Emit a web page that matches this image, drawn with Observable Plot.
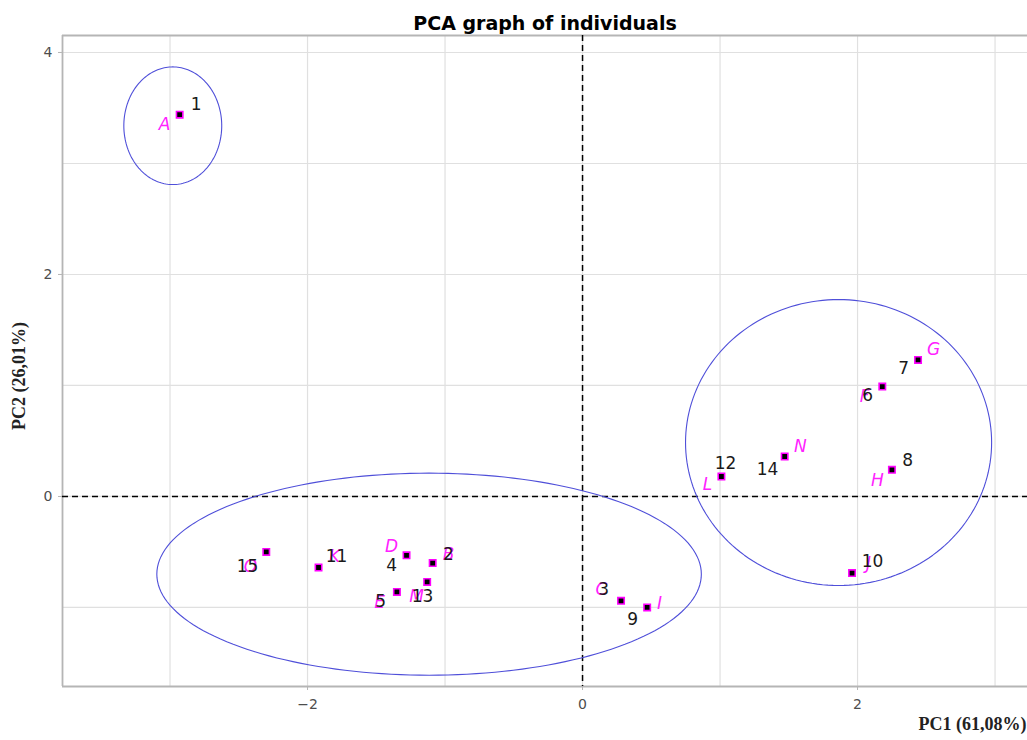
<!DOCTYPE html>
<html>
<head>
<meta charset="utf-8">
<script src="https://cdn.jsdelivr.net/npm/d3@7"></script>
<script src="https://cdn.jsdelivr.net/npm/@observablehq/plot@0.6"></script>
<style>
  html, body { margin: 0; padding: 0; background: #fff; overflow: hidden; }
  #chart { width: 1027px; height: 740px; overflow: hidden; }
</style>
</head>
<body>
<div id="chart"></div>
<script>
// Individuals (PCA coordinates)
const ids     = ["1","2","3","4","5","6","7","8","9","10","11","12","13","14","15"];
const letters = ["A","B","C","D","E","F","G","H","I","J","K","L","M","N","O"];
const pc1 = [-2.93, -1.09, 0.28, -1.28, -1.35, 2.18, 2.44, 2.25, 0.47, 1.96, -1.92, 1.01, -1.13, 1.47, -2.30];
const pc2 = [ 3.44, -0.60, -0.94, -0.53, -0.86, 0.99, 1.23, 0.24, -1.00, -0.69, -0.64, 0.18, -0.77, 0.36, -0.50];

// Label positions (repelled, in data units)
const idLabelX  = [-2.81, -0.975, 0.153, -1.389, -1.469, 2.073, 2.335, 2.364, 0.364, 2.109, -1.789, 1.04, -1.164, 1.345, -2.436];
const idLabelY  = [ 3.53, -0.52, -0.84, -0.62, -0.95, 0.91, 1.15, 0.32, -1.11, -0.59, -0.54, 0.30, -0.90, 0.24, -0.63];
const letLabelX = [-3.04, -0.975, 0.138, -1.389, -1.476, 2.051, 2.553, 2.145, 0.56, 2.08, -1.804, 0.909, -1.207, 1.585, -2.415];
const letLabelY = [ 3.35, -0.52, -0.84, -0.45, -0.955, 0.90, 1.32, 0.144, -0.964, -0.60, -0.54, 0.108, -0.90, 0.45, -0.63];

// Cluster ellipses: centre and semi-axes (data units)
const ellCx = [-2.98, -1.116, 1.862];
const ellCy = [ 3.34, -0.70, 0.486];
const ellRx = [ 0.356, 1.98, 1.113];
const ellRy = [ 0.53, 0.91, 1.288];

const xTicks = [-2, 0, 2];
const yTicks = [0, 2, 4];
const xGrid = [-3, -2, -1, 0, 1, 2, 3];
const yGrid = [-1, 0, 1, 2, 3, 4];

const title = "PCA graph of individuals";
const xLabel = "PC1 (61,08%)";
const yLabel = "PC2 (26,01%)";

const xDomain = [-3.782, 3.236];
const yDomain = [-1.712, 4.153];

const points = ids.map((id, i) => ({
  id, letter: letters[i], x: pc1[i], y: pc2[i],
  lx: idLabelX[i], ly: idLabelY[i], tx: letLabelX[i], ty: letLabelY[i]
}));

const ellipsePts = [];
ellCx.forEach((cx, k) => {
  for (let j = 0; j <= 180; j++) {
    const t = (j / 180) * 2 * Math.PI;
    ellipsePts.push({g: k, x: cx + ellRx[k] * Math.cos(t), y: ellCy[k] + ellRy[k] * Math.sin(t)});
  }
});

const fmt = d => d < 0 ? "\u2212" + Math.abs(d) : String(d);
const gridColor = "#e0e0e0";
const frameColor = "#b5b5b5";
const sans = "'DejaVu Sans', 'Liberation Sans', sans-serif";
const serif = "'Liberation Serif', 'DejaVu Serif', serif";

const chart = Plot.plot({
  width: 1027,
  height: 740,
  marginLeft: 62,
  marginRight: 0,
  marginTop: 35,
  marginBottom: 54,
  style: {fontFamily: sans, background: "#fff", overflow: "hidden"},
  x: {domain: xDomain},
  y: {domain: yDomain},
  marks: [
    Plot.ruleX(xGrid, {stroke: gridColor, strokeWidth: 1.2}),
    Plot.ruleY(yGrid, {stroke: gridColor, strokeWidth: 1.2}),
    Plot.ruleX([xDomain[0]], {stroke: frameColor, strokeWidth: 1.8}),
    Plot.ruleY([yDomain[0], yDomain[1]], {stroke: frameColor, strokeWidth: 1.8}),
    Plot.axisX(xTicks, {tickFormat: fmt, label: null, fontSize: 14, color: "#4d4d4d", tickSize: 4, tickPadding: 9, stroke: frameColor}),
    Plot.axisY(yTicks, {tickFormat: fmt, label: null, fontSize: 14, color: "#4d4d4d", tickSize: 4, tickPadding: 6, stroke: frameColor}),
    Plot.ruleX([0], {stroke: "black", strokeWidth: 1.5, strokeDasharray: "6,4"}),
    Plot.ruleY([0], {stroke: "black", strokeWidth: 1.5, strokeDasharray: "6,4"}),
    Plot.line(ellipsePts, {x: "x", y: "y", z: "g", stroke: "#4f4fd9", strokeWidth: 1.1}),
    Plot.dot(points, {x: "x", y: "y", symbol: "square", r: 3.6, fill: "black", stroke: "#ff00ff", strokeWidth: 1.6}),
    Plot.text(points, {x: "tx", y: "ty", text: "letter", fill: "#ff22ff", fontSize: 17, fontStyle: "italic"}),
    Plot.text(points, {x: "lx", y: "ly", text: "id", fill: "#1a1a1a", fontSize: 17}),
    Plot.text([title], {frameAnchor: "top", dy: -19, fontSize: 19, fontWeight: "bold", fill: "black"}),
    Plot.text([xLabel], {frameAnchor: "bottom-right", textAnchor: "start", dx: -109, dy: 43, fontSize: 18, fontWeight: "bold", fontFamily: serif, fill: "#222"}),
    Plot.text([yLabel], {frameAnchor: "left", textAnchor: "middle", rotate: -90, dx: -43, dy: 15, fontSize: 18, fontWeight: "bold", fontFamily: serif, fill: "#222"})
  ]
});
document.getElementById("chart").appendChild(chart);
</script>
</body>
</html>
